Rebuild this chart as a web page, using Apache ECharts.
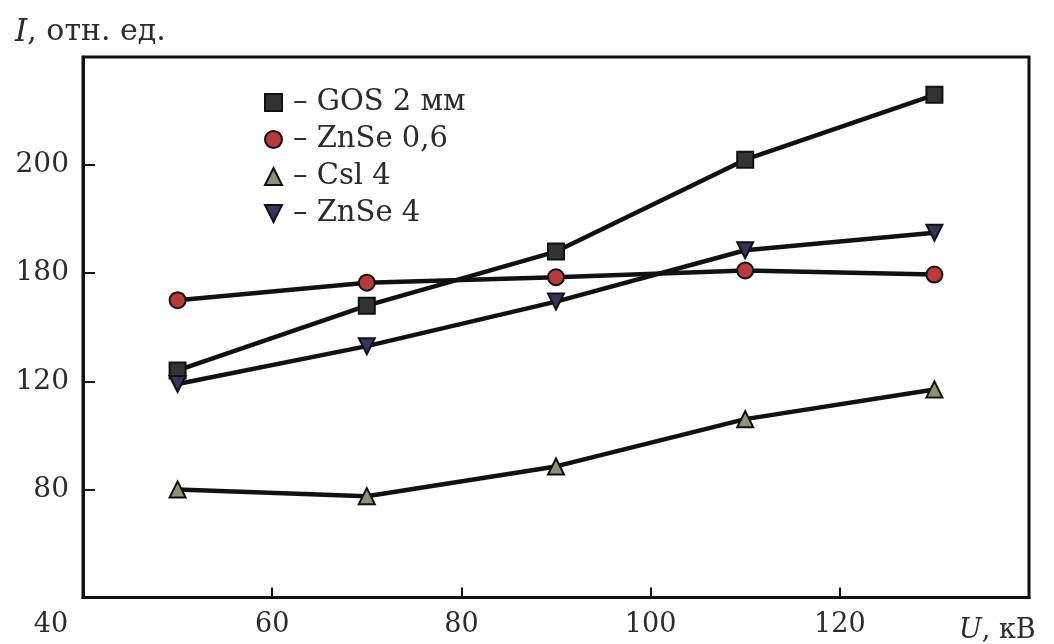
<!DOCTYPE html>
<html><head><meta charset="utf-8">
<script src="https://cdn.jsdelivr.net/npm/echarts@6/dist/echarts.min.js"></script>
<style>html,body{margin:0;padding:0;background:#fff}#c{width:1054px;height:644px}</style>
</head><body><div id="c"></div>
<script>
const voltages = [50, 70, 90, 110, 130];
const gos2 = [124, 148, 168, 202, 226];
const znse06 = [150, 156.5, 158.5, 161, 159.5];
const csi4 = [80, 77.5, 88.5, 106, 117];
const znse4 = [119, 133, 149.5, 168.5, 175];
const seriesNames = ['GOS 2 мм', 'ZnSe 0,6', 'Csl 4', 'ZnSe 4'];
const yTickLabels = {80: '80', 120: '120', 160: '180', 200: '200'};
const xTickLabels = {40: '40', 60: '60', 80: '80', 100: '100', 120: '120'};

const font = "'DejaVu Serif', 'Liberation Serif', serif";
const txt = '#2b2b2b';
const pair = arr => voltages.map((v, i) => [v, arr[i]]);
const mk = (name, data, symbol, fill, size, rot) => ({
  name, type: 'line', data: pair(data), symbol, symbolSize: size, symbolRotate: rot || 0,
  lineStyle: {color: '#111', width: 4.5},
  itemStyle: {color: fill, borderColor: '#111', borderWidth: 2},
  z: 3
});
const chart = echarts.init(document.getElementById('c'));
chart.setOption({
  animation: false,
  backgroundColor: '#fff',
  title: {
    text: '{i|I}, отн. ед.', left: 10, top: 12,
    textStyle: {fontFamily: font, fontSize: 30, fontWeight: 'normal', color: txt,
      rich: {i: {fontFamily: font, fontSize: 31, fontStyle: 'italic', color: txt}}}
  },
  legend: {
    orient: 'vertical', left: 259, top: 82, itemWidth: 17, itemHeight: 17, itemGap: 6,
    data: [
      {name: seriesNames[0], icon: 'rect'},
      {name: seriesNames[1], icon: 'circle'},
      {name: seriesNames[2], icon: 'triangle'},
      {name: seriesNames[3], icon: 'path://M0,0 L10,0 L5,10 Z'}
    ],
    formatter: n => '– ' + n,
    textStyle: {fontFamily: font, fontSize: 29, color: txt, lineHeight: 31, padding: [0, 0, 0, 6]}
  },
  grid: {left: 83, right: 25, top: 57, bottom: 45, show: true, borderColor: '#111', borderWidth: 3},
  xAxis: {
    type: 'value', min: 40, max: 140, interval: 20,
    axisLine: {lineStyle: {color: '#111', width: 3}},
    axisTick: {inside: true, length: 10, lineStyle: {color: '#111', width: 2}},
    splitLine: {show: false},
    axisLabel: {
      fontFamily: font, fontSize: 27, color: txt, margin: 14, showMaxLabel: false,
      formatter: v => v === 40 ? '{a|40}' : (xTickLabels[v] || ''),
      rich: {a: {fontFamily: font, fontSize: 27, color: txt, padding: [0, 64, 0, 0]}}
    },
    name: '{i|U}, кВ', nameLocation: 'end', nameGap: -70,
    nameTextStyle: {fontFamily: font, fontSize: 27, color: txt, padding: [66, 0, 0, 0],
      rich: {i: {fontFamily: font, fontSize: 27, fontStyle: 'italic', color: txt}}}
  },
  yAxis: {
    type: 'value', min: 40, max: 240, interval: 40,
    axisLine: {lineStyle: {color: '#111', width: 3}},
    axisTick: {inside: true, length: 12, lineStyle: {color: '#111', width: 2}},
    splitLine: {show: false},
    axisLabel: {
      fontFamily: font, fontSize: 28, color: txt, margin: 14,
      formatter: v => yTickLabels[v] || ''
    }
  },
  series: [
    mk(seriesNames[0], gos2, 'rect', '#333333', 16),
    mk(seriesNames[1], znse06, 'circle', '#b83a3a', 16),
    mk(seriesNames[2], csi4, 'triangle', '#8f9270', 16),
    mk(seriesNames[3], znse4, 'triangle', '#34345e', 16, 180)
  ]
});
</script></body></html>
